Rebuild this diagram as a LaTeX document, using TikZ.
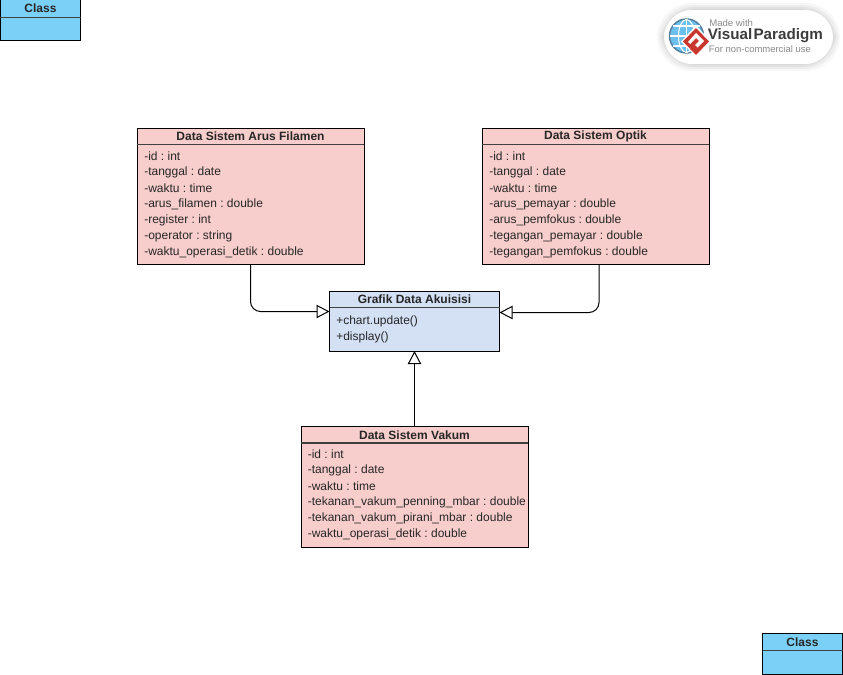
\documentclass[tikz,border=0pt]{standalone}
\usepackage{fontspec}
\setmainfont{Liberation Sans}
\usetikzlibrary{arrows.meta,calc}
\definecolor{pinkfill}{HTML}{F8CECC}
\definecolor{bluefill}{HTML}{D4E1F5}
\definecolor{skyfill}{HTML}{7BD0F7}
\definecolor{vpblue}{HTML}{6CC0EE}
\definecolor{vpring}{HTML}{4F7F9C}
\definecolor{vpred}{HTML}{C8362E}
\definecolor{vpgray}{HTML}{8A8A8A}
\definecolor{vpdark}{HTML}{3C3C3C}
\tikzset{
  classbox/.style={draw=black,line width=0.75pt,inner sep=0pt,outer sep=0pt},
  titletext/.style={font=\fontsize{9}{9}\selectfont\bfseries,text=black!85,inner sep=0pt,anchor=center},
  rowtext/.style={font=\fontsize{9}{9}\selectfont\frenchspacing,text=black!85,inner sep=0pt,anchor=west},
  divider/.style={draw=black!75,line width=1pt},
  gen/.style={draw=black,line width=0.75pt,rounded corners=7.5pt,-{Triangle[open,fill=white,length=9.75pt,width=10pt,line width=0.75pt]}},
}
\newcommand{\umlclass}[8]{% name, cx, cy, w, h, divider y, fill, title
  \node[classbox,fill=#7,minimum width=#4*0.75pt,minimum height=#5*0.75pt] (#1) at (#2,#3) {};
  \draw[divider] (#1.west |- 0,#6) -- (#1.east |- 0,#6);
  \node[titletext] (#1-title) at (#2,{(#6+#3-#5/2)/2}) {#8};
}
\newcommand{\umlrows}[4]{% name, x, first y, list
  \foreach \t [count=\i from 0] in {#4}
    \node[rowtext] (#1-\i) at (#2,{#3+16*\i}) {\t};
}
\begin{document}
\begin{tikzpicture}[x=0.75pt,y=-0.75pt]
\useasboundingbox (0,0) rectangle (843,675);

% corner classes
\umlclass{topclass}{40.5}{20}{80}{41}{17.5}{skyfill}{Class}
\umlclass{botclass}{802.5}{654}{80}{41}{650.5}{skyfill}{Class}

% logo
\begin{scope}
  \foreach \g/\o in {8/0.03,6/0.04,4/0.05,2/0.06}
    \fill[black,opacity=\o,rounded corners=26pt] ({662-\g+3},{9-\g+2}) rectangle ({835+\g-3},{65+\g-2});
  \fill[white,rounded corners=21pt] (664,10) rectangle (833,64);
  \fill[vpblue] (686.5,36) circle [radius=16.5];
  \draw[vpring,line width=1.1pt] (686.5,36) circle [radius=17];
  \draw[white,line width=0.8pt] (686.5,36) ellipse [x radius=8,y radius=16.5];
  \draw[white,line width=0.8pt] (686.5,19.5) -- (686.5,52.5) (670,36) -- (703,36) (673,26) -- (700,26) (673,46) -- (700,46);
  \fill[white] (696,25.5) -- (711,41.5) -- (696,57) -- (681,41.5) -- cycle;
  \fill[vpred] (696,28) -- (709,41.5) -- (696,55) -- (683,41.5) -- cycle;
  \fill[white] (696,33) -- (704,41) -- (697.5,47.5) -- (695,45) -- (699,41) -- (696,38) -- (690,44) -- (688,42) -- cycle;
  \node[inner sep=0pt,anchor=west,font=\fontsize{7.2}{8}\selectfont,text=vpgray] (logo1) at (709,23.5) {Made with};
  \node[inner sep=0pt,anchor=west,font=\fontsize{11.4}{12}\selectfont\bfseries,text=vpdark] (logo2) at (707.5,36) {Visual\kern1pt Paradigm};
  \node[inner sep=0pt,anchor=west,font=\fontsize{7.1}{8}\selectfont,text=vpgray] (logo3) at (708.5,49.5) {For non-commercial use};
\end{scope}

% classes
\umlclass{arus}{250.5}{196}{227}{136}{144.5}{pinkfill}{Data Sistem Arus Filamen}
\umlrows{arus}{144}{156.5}{{-id : int},{-tanggal : date},{-waktu : time},{-arus\_filamen : double},{-register : int},{-operator : string},{-waktu\_operasi\_detik : double}}

\umlclass{optik}{595.5}{196}{227}{136}{144.5}{pinkfill}{Data Sistem Optik}
\umlrows{optik}{489}{156.5}{{-id : int},{-tanggal : date},{-waktu : time},{-arus\_pemayar : double},{-arus\_pemfokus : double},{-tegangan\_pemayar : double},{-tegangan\_pemfokus : double}}

\umlclass{grafik}{414.5}{321}{170}{60}{307.5}{bluefill}{Grafik Data Akuisisi}
\umlrows{grafik}{336}{321.5}{{+chart.update()},{+display()}}

\umlclass{vakum}{414.5}{487}{227}{121}{443}{pinkfill}{Data Sistem Vakum}
\umlrows{vakum}{307.5}{454.5}{{-id : int},{-tanggal : date},{-waktu : time},{-tekanan\_vakum\_penning\_mbar : double},{-tekanan\_vakum\_pirani\_mbar : double},{-waktu\_operasi\_detik : double}}

% connectors
\coordinate (gleft) at (grafik.west |- 0,311.5);
\coordinate (gright) at (grafik.east |- 0,312.5);
\draw[gen] (arus.south) |- (gleft);
\draw[gen] ($(optik.south)+(3.5,0)$) |- (gright);
\draw[gen] (vakum.north) -- (grafik.south);
\end{tikzpicture}
\end{document}
